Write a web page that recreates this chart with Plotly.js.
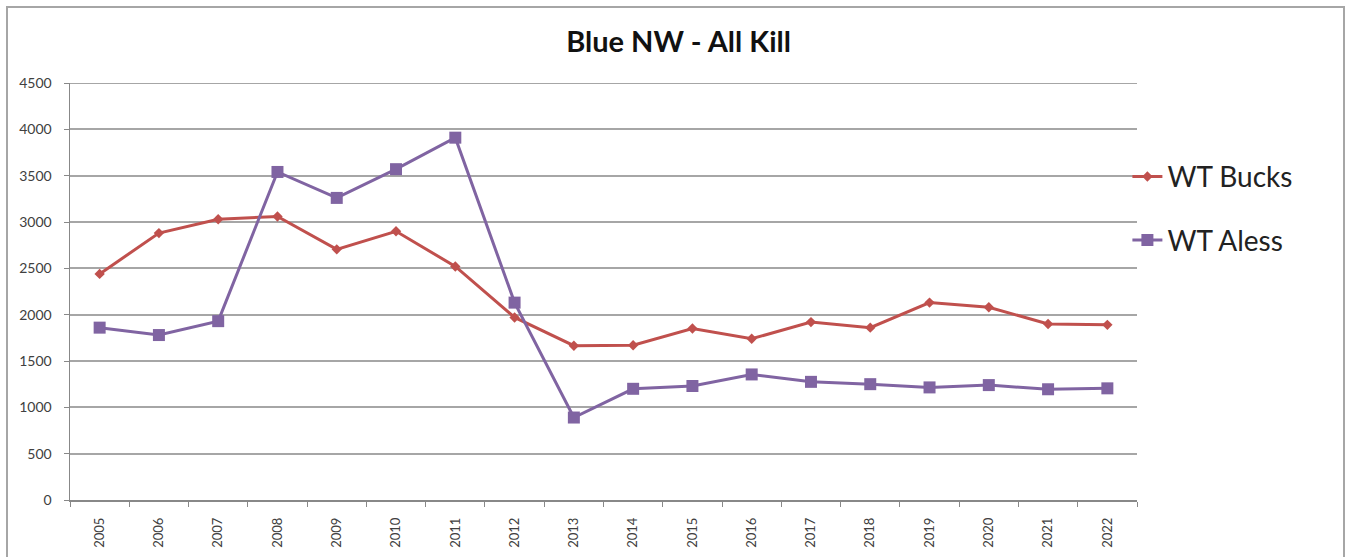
<!DOCTYPE html>
<html>
<head>
<meta charset="utf-8">
<script src="https://cdn.plot.ly/plotly-3.0.1.min.js"></script>
<style>
html,body{margin:0;padding:0;background:#fff;}
#frame{position:absolute;left:6px;top:6px;width:1339px;height:560px;border:2px solid #a6a6a6;border-bottom:none;box-sizing:border-box;}
#chart{position:absolute;left:0;top:0;width:1349px;height:557px;}
</style>
</head>
<body>
<div id="frame"></div>
<div id="chart"></div>
<script>
const years = ["2005","2006","2007","2008","2009","2010","2011","2012","2013","2014","2015","2016","2017","2018","2019","2020","2021","2022"];
const wtBucks = [2440,2880,3030,3060,2705,2900,2520,1970,1665,1670,1850,1740,1920,1860,2130,2080,1900,1890];
const wtAless = [1860,1780,1930,3540,3260,3570,3910,2130,890,1200,1230,1355,1275,1250,1215,1240,1195,1205];
const yTicks = [0,500,1000,1500,2000,2500,3000,3500,4000,4500];

const traces = [
  {x: years, y: wtBucks, name: "WT Bucks", type: "scatter", mode: "lines+markers",
   legendgroup: "a",
   line: {color: "#c0504d", width: 3},
   marker: {symbol: "diamond", size: 8, color: "#c0504d"}},
  {x: years, y: wtAless, name: "WT Aless", type: "scatter", mode: "lines+markers",
   legendgroup: "b",
   line: {color: "#8064a2", width: 3},
   marker: {symbol: "square", size: 12, color: "#8064a2"}}
];

const layout = {
  width: 1349, height: 557,
  margin: {l: 70, r: 212, t: 83, b: 57},
  paper_bgcolor: "rgba(0,0,0,0)",
  plot_bgcolor: "#fff",
  font: {family: "Lato, 'Open Sans', sans-serif", color: "#404040"},
  title: {text: "<b>Blue NW - All Kill</b>", x: 0.503, xref: "container", xanchor: "center",
          y: 0.925, yref: "container", yanchor: "middle",
          font: {size: 29, color: "#111", family: "Lato, 'Open Sans', sans-serif"}},
  xaxis: {type: "category", range: [-0.5, years.length - 0.5], tickangle: -90, tickson: "boundaries",
          ticks: "outside", ticklen: 5, ticklabelstandoff: 11,
          tickcolor: "#888", showline: true, linecolor: "#888", linewidth: 1.5,
          showgrid: false, tickfont: {size: 13, color: "#404040"}, fixedrange: true},
  yaxis: {range: [0, 4500], tickvals: yTicks, ticktext: yTicks.map(String), ticks: "outside", ticklen: 5,
          ticklabelstandoff: 9,
          tickcolor: "#888", showline: true, linecolor: "#888", linewidth: 1.5,
          gridcolor: "#a6a6a6", gridwidth: 2, zeroline: false,
          tickfont: {size: 14, color: "#404040"}, fixedrange: true},
  shapes: [{type: "line", xref: "paper", x0: 0, x1: 1, yref: "y", y0: 4500, y1: 4500,
            line: {color: "#a6a6a6", width: 2}, layer: "below"}],
  legend: {x: 0.991, xanchor: "left", y: 0.835, yanchor: "top", traceorder: "grouped", tracegroupgap: 24,
           font: {size: 28, color: "#222"}, bgcolor: "rgba(0,0,0,0)"},
  showlegend: true
};

Plotly.newPlot("chart", traces, layout, {displayModeBar: false, staticPlot: true});
</script>
</body>
</html>
